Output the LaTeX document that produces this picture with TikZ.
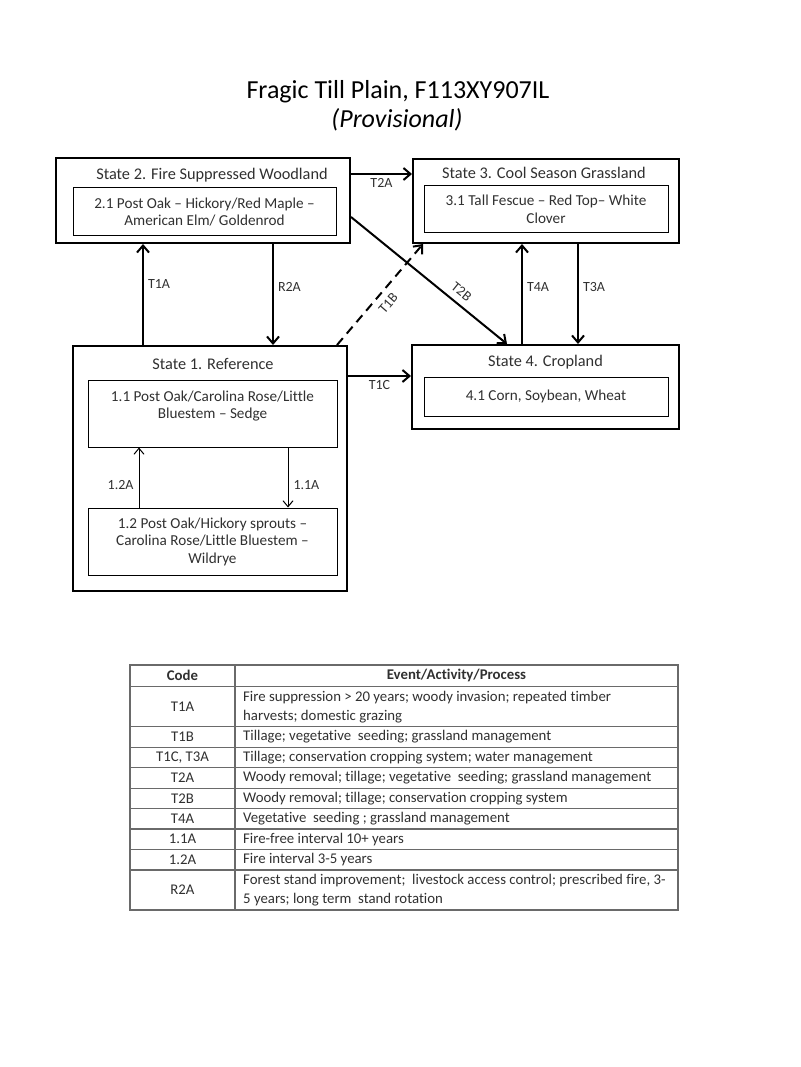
\documentclass[tikz,border=0pt]{standalone}
\usepackage{fontspec}
\setmainfont{Carlito}[Ligatures={TeX,NoCommon}]
\usepackage{tikz}
\usetikzlibrary{shapes,arrows,arrows.meta}
\usetikzlibrary{calc,positioning}
\definecolor{txtgray}{HTML}{303030}
\definecolor{rulegray}{HTML}{6A6A6A}
\tikzset{
        statebox/.style = {draw, rectangle, line width=2pt},
        community/.style = {draw, rectangle, line width=1pt, align=center,
            text=txtgray, font=\fontsize{15.2}{17.5}\selectfont},
        statetitle/.style = {text=txtgray, font=\fontsize{16.3}{19}\selectfont},
        arrow/.style = {draw, line width=2pt, -{Straight Barb[length=7pt,width=12pt]}},
        thinarrow/.style = {draw, line width=1pt, -{Straight Barb[length=6pt,width=10pt]}},
        lbl/.style = {text=txtgray, font=\fontsize{14}{16}\selectfont, inner sep=2pt},
        cell/.style = {text=txtgray, font=\fontsize{14.8}{19}\selectfont, inner sep=0pt},
        rule/.style = {draw=rulegray, line width=1.2pt},
    }

\begin{document}
\begin{tikzpicture}[x=1pt,y=-1pt]
\useasboundingbox (0,0) rectangle (800,1067);

\node[font=\fontsize{26}{28}\selectfont] (title) at (398,92) {Fragic Till Plain, F113XY907IL};
\node[font=\fontsize{26}{28}\selectfont\itshape] (subtitle) at (397,120) {(Provisional)};

% states
\node[statebox, minimum width=294pt, minimum height=85pt] (s2) at (203,200.5) {};
\node[statebox, minimum width=266pt, minimum height=84pt] (s3) at (546,201) {};
\node[statebox, minimum width=274pt, minimum height=245pt] (s1) at (210,468.5) {};
\node[statebox, minimum width=267pt, minimum height=84pt] (s4) at (545.5,387) {};

\node[statetitle] (s2t) at (212,175) {State 2. Fire Suppressed Woodland};
\node[statetitle] (s3t) at (544,173) {State 3. Cool Season Grassland};
\node[statetitle] (s1t) at (213,364) {State 1. Reference};
\node[statetitle] (s4t) at (545.5,362) {State 4. Cropland};

% communities
\node[community, minimum width=263pt, minimum height=48pt] (s2a) at (204.5,212)
      {2.1 Post Oak – Hickory/Red Maple –\\American Elm/ Goldenrod};
\node[community, minimum width=244pt, minimum height=47pt] (s3a) at (546,209.5)
      {3.1 Tall Fescue – Red Top– White\\Clover};
\node[community, minimum width=244pt, minimum height=39pt] (s4a) at (546,396.5)
      {4.1 Corn, Soybean, Wheat};
\node[community, minimum width=249pt, minimum height=67pt] (s1a) at (212.5,413.5)
      {1.1 Post Oak/Carolina Rose/Little\\Bluestem – Sedge\\~};
\node[community, minimum width=249pt, minimum height=67pt] (s1b) at (212.5,541.5)
      {1.2 Post Oak/Hickory sprouts –\\Carolina Rose/Little Bluestem –\\Wildrye};

% transitions
\draw[arrow] ([xshift=-67pt]s1.north) -- ([xshift=-60pt]s2.south)
      node[lbl, pos=0.6, right=2pt] {T1A};
\draw[arrow] ([xshift=70pt]s2.south) -- ([xshift=63pt]s1.north)
      node[lbl, pos=0.43, right=2pt] {R2A};
\draw[arrow] ([yshift=26.5pt]s2.east) -- ([yshift=27pt]s3.west)
      node[lbl, midway, below=1pt] {T2A};
\draw[arrow, dash pattern=on 9pt off 6pt] ([xshift=127pt]s1.north) -- ([xshift=-123pt]s3.south)
      node[lbl, pos=0.49, rotate=49, yshift=-12pt] {T1B};
\draw[arrow] ([yshift=-16.5pt]s2.east) -- ([xshift=-38.5pt]s4.north)
      node[lbl, pos=0.66, rotate=-39, yshift=12pt] {T2B};
\draw[arrow] ([yshift=92.5pt]s1.east) -- ([yshift=11pt]s4.west)
      node[lbl, midway, below=1pt] {T1C};
\draw[arrow] ([xshift=-23.5pt]s4.north) -- ([xshift=-24pt]s3.south)
      node[lbl, pos=0.57, right=2pt] {T4A};
\draw[arrow] ([xshift=32pt]s3.south) -- ([xshift=32.5pt]s4.north)
      node[lbl, pos=0.43, right=2pt] {T3A};
\draw[thinarrow] ([xshift=-73.5pt]s1b.north) -- ([xshift=-73.5pt]s1a.south)
      node[lbl, pos=0.38, left=3pt] {1.2A};
\draw[thinarrow] ([xshift=75.5pt]s1a.south) -- ([xshift=75.5pt]s1b.north)
      node[lbl, pos=0.62, right=3pt] {1.1A};

% legend table
\draw[rule, line width=1.5pt] (130,665) rectangle (678,910);
\draw[rule] (235,665) -- (235,910);
\foreach \yy in {686.7,726.7,747.3,767.7,788.3,808.3,829,849.3,870}
      \draw[rule] (130,\yy) -- (678,\yy);

\node[cell, font=\fontsize{14.8}{19}\selectfont\bfseries] (hcode) at (182.5,675.8) {Code};
\node[cell, font=\fontsize{14.8}{19}\selectfont\bfseries] (hevent) at (456.5,675.8) {Event/Activity/Process};

\foreach \yy/\code/\event [count=\i] in {
      706.7/T1A/{Fire suppression > 20 years; woody invasion; repeated timber\\harvests; domestic grazing},
      737/T1B/{Tillage; vegetative~ seeding; grassland management},
      757.5/{T1C, T3A}/{Tillage; conservation cropping system; water management},
      778/T2A/{Woody removal; tillage; vegetative~ seeding; grassland management},
      798.3/T2B/{Woody removal; tillage; conservation cropping system},
      818.7/T4A/{Vegetative~ seeding ; grassland management},
      839.2/1.1A/{Fire-free interval 10+ years},
      859.7/1.2A/{Fire interval 3-5 years},
      890/R2A/{Forest stand improvement;~ livestock access control; prescribed fire, 3-\\5 years; long term~ stand rotation}}
{
  \node[cell] (code\i) at (182.5,\yy) {\code};
  \node[cell, anchor=west, align=left] (event\i) at (243,\yy) {\event};
}
\end{tikzpicture}
\end{document}
